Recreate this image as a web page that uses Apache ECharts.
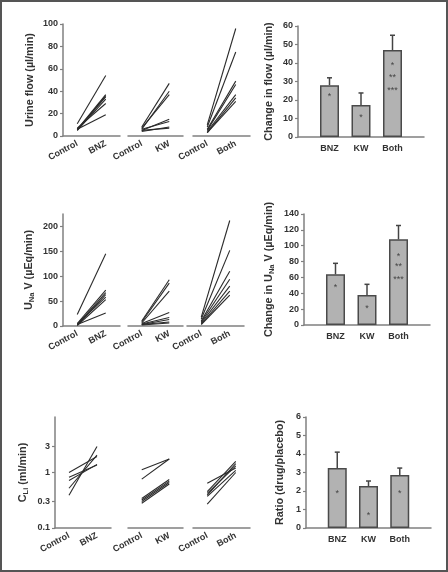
<!DOCTYPE html>
<html><head><meta charset="utf-8">
<script src="https://cdn.jsdelivr.net/npm/echarts@6/dist/echarts.min.js"></script>
<style>html,body{margin:0;padding:0;background:#fff}#c{width:448px;height:572px}</style>
</head><body><div id="c"></div>
<script>
// ---------- DATA ----------
const groupCats = [['Control', 'BNZ'], ['Control', 'KW'], ['Control', 'Both']];
const barCats = ['BNZ', 'KW', 'Both'];

// Urine flow (µl/min), individual subjects
const flowBNZControl = [11, 6, 5, 6, 5, 7, 6];
const flowBNZDrug    = [54, 37, 36, 35, 33, 29, 19];
const flowKWControl  = [8, 6, 7, 5, 6, 4, 5];
const flowKWDrug     = [47, 40, 37, 15, 13, 8, 7];
const flowBothControl = [10, 8, 6, 5, 4, 3, 3];
const flowBothDrug    = [96, 75, 49, 46, 37, 34, 31];
// Change in flow: mean, SE
const flowMean = [28, 17.3, 47];
const flowErr  = [4, 6.5, 8];
const flowStarX = [1, 2, 3, 3, 3];
const flowStarY = [23, 11.7, 40, 33.3, 26.5];
const flowStarT = ['*', '*', '*', '**', '***'];

// UNaV (µEq/min)
const unaBNZControl = [23, 5, 3, 2, 4, 1, 3];
const unaBNZDrug    = [145, 72, 67, 63, 58, 53, 26];
const unaKWControl  = [10, 8, 6, 5, 4, 3, 3, 2];
const unaKWDrug     = [93, 86, 70, 27, 17, 13, 8, 6];
const unaBothControl = [18, 14, 10, 8, 6, 4, 3];
const unaBothDrug    = [212, 152, 110, 94, 80, 70, 62];
const unaMean = [63.9, 37.8, 108];
const unaErr  = [13.9, 13.5, 17.5];
const unaStarX = [1, 2, 3, 3, 3];
const unaStarY = [50.4, 24, 89.5, 76.5, 60];
const unaStarT = ['*', '*', '*', '**', '***'];

// CLi (ml/min), log scale
const cliBNZControl = [1.0, 0.82, 0.72, 0.52, 0.39];
const cliBNZDrug    = [1.95, 1.36, 1.4, 2.05, 2.95];
const cliKWControl  = [1.12, 0.76, 0.34, 0.32, 0.30, 0.28];
const cliKWDrug     = [1.75, 1.75, 0.75, 0.70, 0.66, 0.62];
const cliBothControl = [0.64, 0.45, 0.42, 0.39, 0.37, 0.27];
const cliBothDrug    = [1.2, 1.58, 1.32, 1.44, 1.09, 1.0];
const ratioMean = [3.24, 2.27, 2.86];
const ratioErr  = [0.86, 0.27, 0.38];
const ratioStarX = [1, 2, 3];
const ratioStarY = [2.0, 0.81, 2.0];
const ratioStarT = ['*', '*', '*'];

const flowTicks = [0, 20, 40, 60, 80, 100];
const unaTicks = [0, 50, 100, 150, 200];
const cliTicks = [0.1, 0.3, 1, 3];

// ---------- BUILD ----------
const FONT = 'Liberation Sans, Arial, sans-serif';
const TXT = '#333';
const AX = '#808080';
const NAME_SIZE = 10.8;
const grids = [], xAxes = [], yAxes = [], series = [];
const rich = { sub: { fontSize: 7.5, fontWeight: 'bold', fontFamily: FONT, color: TXT, verticalAlign: 'bottom', padding: [5, 0, 0, 0] } };

function addLinePanel(top, height, lefts, widths, yCfg, groups, name, nameGap) {
  lefts.forEach((left, gi) => {
    const idx = grids.length;
    grids.push({ left: left, top: top, width: widths[gi], height: height });
    xAxes.push({
      gridIndex: idx, type: 'category', data: groupCats[gi], boundaryGap: true,
      axisLine: { lineStyle: { color: AX, width: 1.5 } },
      axisTick: { alignWithLabel: true, length: 3, interval: 0, lineStyle: { color: AX, width: 1.2 } },
      axisLabel: { interval: 0, rotate: 28, margin: 7, fontSize: 9, fontWeight: 'bold', fontFamily: FONT, color: TXT }
    });
    const y = Object.assign({
      gridIndex: idx, show: gi === 0, splitLine: { show: false },
      axisLine: { show: true, lineStyle: { color: AX, width: 1.5 } },
      axisTick: { show: true, length: 3, lineStyle: { color: AX, width: 1.2 }, customValues: yCfg.ticks },
      axisLabel: { margin: 5, fontSize: 9, fontWeight: 'bold', fontFamily: FONT, color: TXT, customValues: yCfg.ticks, formatter: v => String(v) }
    }, yCfg.axis);
    if (gi === 0) {
      y.name = name; y.nameLocation = 'middle'; y.nameGap = nameGap;
      y.nameTextStyle = { fontSize: NAME_SIZE, fontWeight: 'bold', fontFamily: FONT, color: TXT, rich: rich };
    }
    yAxes.push(y);
    const [ctrl, drug] = groups[gi];
    ctrl.forEach((c, i) => {
      series.push({ type: 'line', xAxisIndex: idx, yAxisIndex: idx, data: [c, drug[i]], symbol: 'none', silent: true,
        lineStyle: { color: '#2a2a2a', width: 1.1 }, z: 3 });
    });
  });
}

function addBarPanel(left, top, width, height, yCfg, mean, err, sx, sy, st, name, nameGap) {
  const idx = grids.length;
  grids.push({ left: left, top: top, width: width, height: height });
  xAxes.push({
    gridIndex: idx, type: 'value', min: 0, max: 4, splitLine: { show: false },
    axisLine: { show: true, lineStyle: { color: AX, width: 1.5 } },
    axisTick: { show: false },
    axisLabel: { customValues: [1, 2, 3], margin: 7, fontSize: 9, fontWeight: 'bold', fontFamily: FONT, color: TXT, formatter: v => barCats[Math.round(v) - 1] || '' }
  });
  yAxes.push(Object.assign({
    gridIndex: idx, splitLine: { show: false },
    axisLine: { show: true, lineStyle: { color: AX, width: 1.5 } },
    axisTick: { show: true, length: 3, lineStyle: { color: AX, width: 1.2 } },
    axisLabel: { margin: 5, fontSize: 9, fontWeight: 'bold', fontFamily: FONT, color: TXT },
    name: name, nameLocation: 'middle', nameGap: nameGap,
    nameTextStyle: { fontSize: NAME_SIZE, fontWeight: 'bold', fontFamily: FONT, color: TXT, rich: rich }
  }, yCfg));
  series.push({ type: 'bar', xAxisIndex: idx, yAxisIndex: idx, barWidth: 19, silent: true,
    data: mean.map((m, i) => [i + 1, m]),
    itemStyle: { color: '#b2b2b2', borderColor: '#4a4a4a', borderWidth: 1.5 }, z: 2 });
  series.push({ type: 'custom', xAxisIndex: idx, yAxisIndex: idx, silent: true, z: 4,
    data: mean.map((m, i) => [i + 1, m, m + err[i]]),
    renderItem: (params, api) => {
      const p0 = api.coord([api.value(0), api.value(1)]);
      const p1 = api.coord([api.value(0), api.value(2)]);
      const st = { stroke: '#444', lineWidth: 1.5 };
      return { type: 'group', children: [
        { type: 'line', shape: { x1: p0[0], y1: p0[1], x2: p1[0], y2: p1[1] }, style: st },
        { type: 'line', shape: { x1: p1[0] - 2.5, y1: p1[1], x2: p1[0] + 2.5, y2: p1[1] }, style: st }
      ] };
    }
  });
  series.push({ type: 'custom', xAxisIndex: idx, yAxisIndex: idx, silent: true, z: 5,
    data: sx.map((x, i) => [x, sy[i], st[i]]),
    renderItem: (params, api) => {
      const p = api.coord([api.value(0), api.value(1)]);
      return { type: 'text', x: p[0], y: p[1] + 2.5,
        style: { text: st[params.dataIndex], fill: '#444', fontSize: 9, fontFamily: FONT, align: 'center', verticalAlign: 'middle' } };
    }
  });
}

// Panel row 1
addLinePanel(24, 112, [63, 128, 193], [57, 55, 57],
  { ticks: flowTicks, axis: { type: 'value', min: 0, max: 100 } },
  [[flowBNZControl, flowBNZDrug], [flowKWControl, flowKWDrug], [flowBothControl, flowBothDrug]],
  'Urine flow (µl/min)', 27);
addBarPanel(298, 26, 126, 111, { type: 'value', min: 0, max: 60, interval: 10 },
  flowMean, flowErr, flowStarX, flowStarY, flowStarT, 'Change in flow (µl/min)', 23);

// Panel row 2
addLinePanel(214, 112, [63, 128, 187], [57, 55, 57],
  { ticks: unaTicks, axis: { type: 'value', min: 0, max: 225 } },
  [[unaBNZControl, unaBNZDrug], [unaKWControl, unaKWDrug], [unaBothControl, unaBothDrug]],
  'U{sub|Na} V (µEq/min)', 27);
addBarPanel(304, 214, 126, 111, { type: 'value', min: 0, max: 140, interval: 20 },
  unaMean, unaErr, unaStarX, unaStarY, unaStarT, 'Change in U{sub|Na} V (µEq/min)', 28);

// Panel row 3
addLinePanel(417, 111, [55, 128, 193], [56, 55, 57],
  { ticks: cliTicks, axis: { type: 'log', logBase: 10, min: 0.1, max: 10 } },
  [[cliBNZControl, cliBNZDrug], [cliKWControl, cliKWDrug], [cliBothControl, cliBothDrug]],
  'C{sub|Li} (ml/min)', 25);
addBarPanel(306, 417, 125, 111, { type: 'value', min: 0, max: 6, interval: 1 },
  ratioMean, ratioErr, ratioStarX, ratioStarY, ratioStarT, 'Ratio (drug/placebo)', 20);

const chart = echarts.init(document.getElementById('c'), null, { renderer: 'canvas' });
chart.setOption({
  animation: false,
  backgroundColor: '#fff',
  grid: grids, xAxis: xAxes, yAxis: yAxes, series: series,
  graphic: [{ type: 'rect', shape: { x: 1, y: 1, width: 446, height: 570 }, style: { fill: 'none', stroke: '#555', lineWidth: 2 }, silent: true }]
});
</script></body></html>
